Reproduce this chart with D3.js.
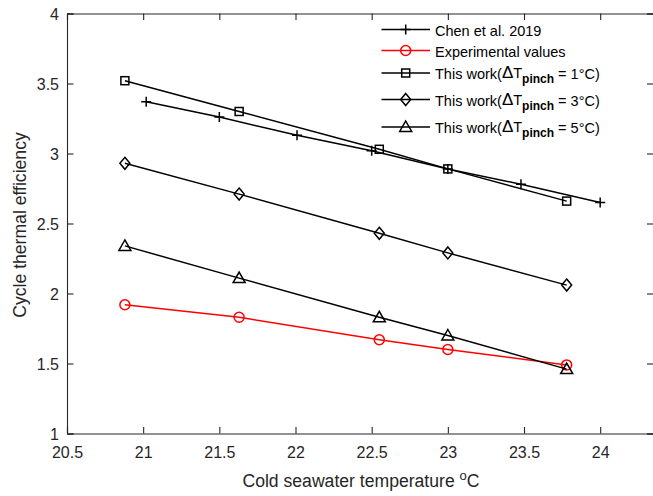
<!DOCTYPE html>
<html>
<head>
<meta charset="utf-8">
<script src="https://cdn.jsdelivr.net/npm/d3@7"></script>
<style>
  html, body { margin: 0; padding: 0; background: #fff; }
  svg { display: block; font-family: "Liberation Sans", Arial, Helvetica, sans-serif; }
</style>
</head>
<body>
<svg id="chart" width="653" height="496"></svg>
<script>
// ---- data ----
const xTicks = [20.5, 21, 21.5, 22, 22.5, 23, 23.5, 24];
const yTicks = [1, 1.5, 2, 2.5, 3, 3.5, 4];
const xTickLabels = ["20.5", "21", "21.5", "22", "22.5", "23", "23.5", "24"];
const yTickLabels = ["1", "1.5", "2", "2.5", "3", "3.5", "4"];

const chenX = [21.02, 21.5, 22.01, 22.5, 23.0, 23.48, 24.0];
const chenY = [3.37, 3.26, 3.13, 3.02, 2.89, 2.78, 2.65];

const workX = [20.88, 21.63, 22.55, 23.0, 23.78];
const expY = [1.92, 1.83, 1.67, 1.60, 1.49];
const pinch1Y = [3.52, 3.30, 3.03, 2.89, 2.66];
const pinch3Y = [2.93, 2.71, 2.43, 2.29, 2.06];
const pinch5Y = [2.34, 2.11, 1.83, 1.70, 1.46];

const seriesNames = ["Chen et al. 2019", "Experimental values", "1", "3", "5"];

// ---- layout ----
const svg = d3.select("#chart");
const L = 67, R = 653.5, T = 13.5, B = 433.5;
const x = d3.scaleLinear().domain([20.5, 24.35]).range([L, R]);
const y = d3.scaleLinear().domain([1, 4]).range([B, T]);
const axisColor = "#262626";

// axes
const gx = svg.append("g").attr("transform", `translate(0,${B})`)
  .call(d3.axisBottom(x).tickValues(xTicks).tickFormat((d, i) => xTickLabels[i]).tickSize(-6.5).tickPadding(13));
const gxt = svg.append("g").attr("transform", `translate(0,${T})`)
  .call(d3.axisTop(x).tickValues(xTicks).tickFormat("").tickSize(-6.5));
const gy = svg.append("g").attr("transform", `translate(${L},0)`)
  .call(d3.axisLeft(y).tickValues(yTicks).tickFormat((d, i) => yTickLabels[i]).tickSize(-6.5).tickPadding(8));
const gyr = svg.append("g").attr("transform", `translate(${R},0)`)
  .call(d3.axisRight(y).tickValues(yTicks).tickFormat("").tickSize(-6.5));
[gx, gxt, gy, gyr].forEach(g => {
  g.selectAll("path.domain").attr("stroke", axisColor).attr("stroke-width", 1.1);
  g.selectAll(".tick line").attr("stroke", axisColor).attr("stroke-width", 1.1);
  g.selectAll(".tick text").attr("fill", axisColor).attr("font-size", 16)
    .attr("font-family", "'Liberation Sans', Arial, sans-serif");
});
gx.selectAll(".tick text").attr("dy", "0.71em");
gy.selectAll(".tick text").attr("dy", "0.4em");

// axis labels
const xl = svg.append("text").attr("x", 361).attr("y", 487).attr("text-anchor", "middle")
  .attr("font-size", 17.6).attr("fill", axisColor);
xl.append("tspan").text("Cold seawater temperature ");
xl.append("tspan").attr("font-size", 13).attr("dy", -7).text("o");
xl.append("tspan").attr("dy", 7).text("C");

svg.append("text").attr("transform", `translate(26,225) rotate(-90)`).attr("text-anchor", "middle")
  .attr("font-size", 17.6).attr("fill", axisColor).text("Cycle thermal efficiency");

// markers
function drawMarker(g, type, cx, cy, color) {
  const sw = 1.5;
  if (type === "plus") {
    g.append("path").attr("d", `M${cx-5},${cy}H${cx+5}M${cx},${cy-5}V${cy+5}`)
      .attr("stroke", color).attr("stroke-width", sw).attr("fill", "none");
  } else if (type === "circle") {
    g.append("circle").attr("cx", cx).attr("cy", cy).attr("r", 5)
      .attr("stroke", color).attr("stroke-width", sw).attr("fill", "none");
  } else if (type === "square") {
    g.append("rect").attr("x", cx-4).attr("y", cy-4).attr("width", 8).attr("height", 8)
      .attr("stroke", color).attr("stroke-width", sw).attr("fill", "none");
  } else if (type === "diamond") {
    g.append("path").attr("d", `M${cx},${cy-6}L${cx+5},${cy}L${cx},${cy+6}L${cx-5},${cy}Z`)
      .attr("stroke", color).attr("stroke-width", sw).attr("fill", "none");
  } else if (type === "triangle") {
    g.append("path").attr("d", `M${cx},${cy-6}L${cx+6},${cy+4.5}L${cx-6},${cy+4.5}Z`)
      .attr("stroke", color).attr("stroke-width", sw).attr("fill", "none");
  }
}

const series = [
  { xs: chenX, ys: chenY, type: "plus", color: "#000" },
  { xs: workX, ys: expY, type: "circle", color: "#ff0000" },
  { xs: workX, ys: pinch1Y, type: "square", color: "#000" },
  { xs: workX, ys: pinch3Y, type: "diamond", color: "#000" },
  { xs: workX, ys: pinch5Y, type: "triangle", color: "#000" }
];

const line = d3.line().x(d => x(d[0])).y(d => y(d[1]));
series.forEach(s => {
  const pts = s.xs.map((v, i) => [v, s.ys[i]]);
  const g = svg.append("g");
  g.append("path").attr("d", line(pts)).attr("fill", "none")
    .attr("stroke", s.color).attr("stroke-width", 1.5);
  pts.forEach(p => drawMarker(g, s.type, x(p[0]), y(p[1]), s.color));
});

// legend
const legRows = [29.5, 50.5, 73, 99.5, 127];
const leg = svg.append("g");
series.forEach((s, i) => {
  const cy = legRows[i];
  leg.append("line").attr("x1", 381.5).attr("x2", 430).attr("y1", cy).attr("y2", cy)
    .attr("stroke", s.color).attr("stroke-width", 1.5);
  drawMarker(leg, s.type, 405.7, cy, s.color);
  const t = leg.append("text").attr("x", 435).attr("y", cy + 6).attr("font-size", 14.5).attr("fill", "#000");
  if (i < 2) {
    t.text(seriesNames[i]);
  } else {
    t.append("tspan").text("This work(");
    t.append("tspan").attr("font-size", 17).attr("dy", -1).text("Δ");
    t.append("tspan").attr("font-size", 14.5).attr("dy", 0).text("T");
    t.append("tspan").attr("font-size", 12).attr("font-weight", "bold").attr("dy", 5).text("pinch");
    t.append("tspan").attr("font-size", 14.5).attr("dy", -4).text(" = " + seriesNames[i] + "°C)");
  }
});
</script>
</body>
</html>
